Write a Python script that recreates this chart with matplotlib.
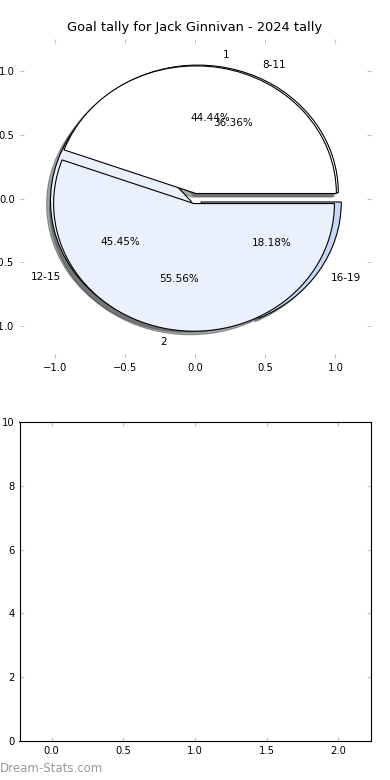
import matplotlib
matplotlib.use("Agg")
import matplotlib.pyplot as plt

title = "Goal tally for Jack Ginnivan - 2024 tally"

# goals per game split
game_labels = ["1", "2"]
game_counts = [4, 5]
game_colors = ["white", "#eaf0fc"]

# goals per quarter-minute band
band_labels = ["8-11", "12-15", "16-19"]
band_counts = [4, 5, 2]
band_colors = ["white", "#eaf0fc", "#c6d8f6"]

plt.rcParams["font.family"] = "DejaVu Sans"
plt.rcParams["xtick.direction"] = "in"
plt.rcParams["ytick.direction"] = "in"
plt.rcParams["xtick.color"] = "#c0c0c0"
plt.rcParams["ytick.color"] = "#c0c0c0"
plt.rcParams["xtick.labelcolor"] = "black"
plt.rcParams["ytick.labelcolor"] = "black"
plt.rcParams["xtick.labelsize"] = 7.2
plt.rcParams["ytick.labelsize"] = 7.2
plt.rcParams["xtick.major.size"] = 3
plt.rcParams["ytick.major.size"] = 3

fig, (ax1, ax2) = plt.subplots(2, 1, figsize=(3.9, 7.8), dpi=100)
fig.subplots_adjust(left=0.05, right=0.95, bottom=0.05, top=0.95, hspace=0.2)

wp = dict(edgecolor="black", linewidth=0.8)
ax1.pie(band_counts, labels=band_labels, colors=band_colors, autopct="%1.2f%%",
        explode=[0.05, 0.035, 0.05], shadow=True, frame=True, wedgeprops=wp,
        textprops=dict(fontsize=7.5))
ax1.pie(game_counts, labels=game_labels, colors=game_colors, autopct="%1.2f%%",
        explode=[0.04] * 2, shadow=True, frame=True, wedgeprops=wp,
        textprops=dict(fontsize=7.5))
ax1.set_aspect("auto")
ax1.set_xlim(-1.25, 1.25)
ax1.set_ylim(-1.25, 1.25)
ax1.set_xticks([-1.0, -0.5, 0.0, 0.5, 1.0])
ax1.set_yticks([-1.0, -0.5, 0.0, 0.5, 1.0])
for s in ax1.spines.values():
    s.set_visible(False)
ax1.tick_params(top=True, right=True)
ax1.set_title(title, fontsize=9.4)

ax2.set_xlim(-0.225, 2.225)
ax2.set_ylim(0, 10)
ax2.set_xticks([0.0, 0.5, 1.0, 1.5, 2.0])
ax2.set_yticks([0, 2, 4, 6, 8, 10])
ax2.tick_params(top=True, right=True)

fig.text(0.0, 0.006, "Dream-Stats.com", fontsize=8.5, color="#9a9a9a",
         ha="left", va="bottom")

fig.savefig("out.png")
